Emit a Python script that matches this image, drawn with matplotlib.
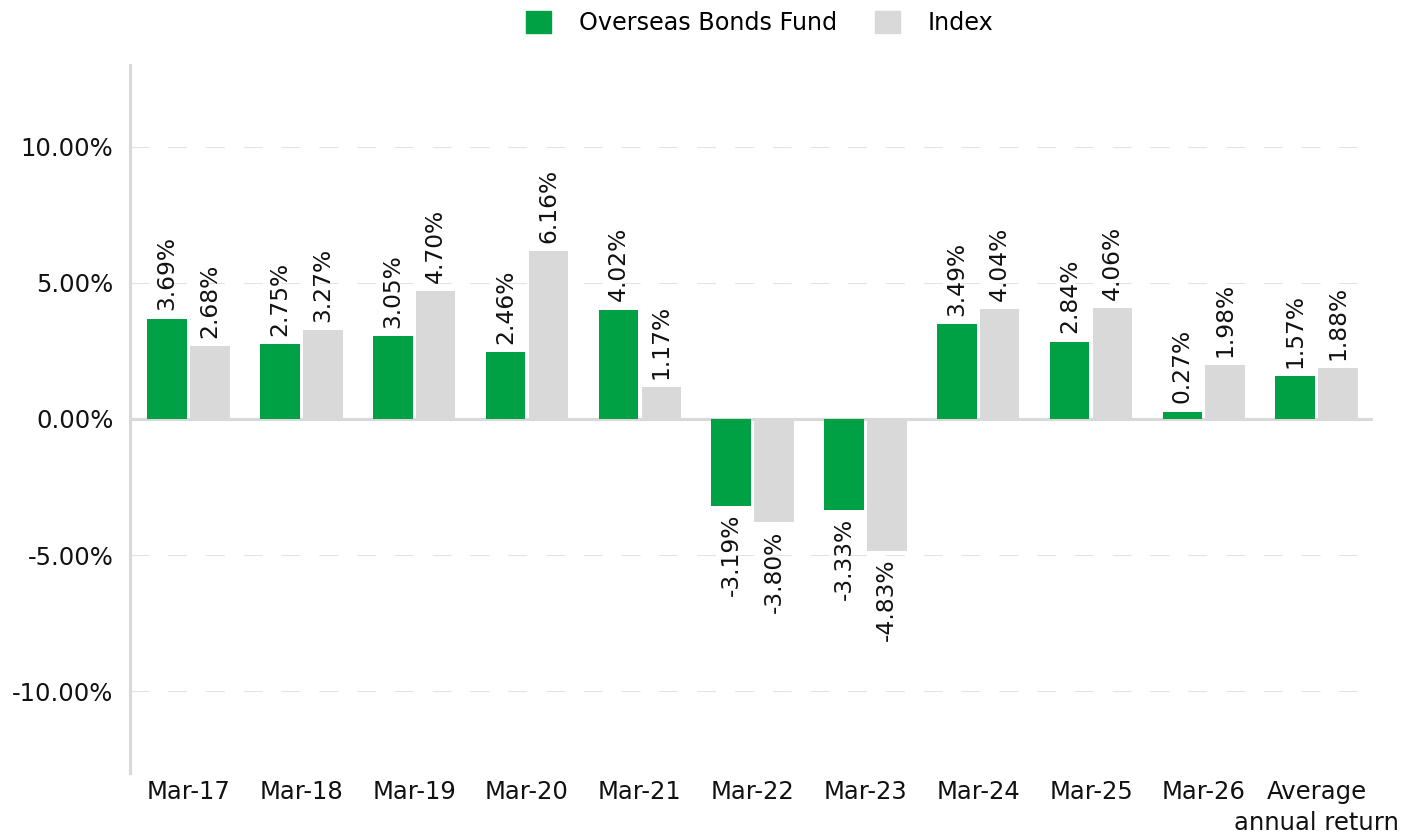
import matplotlib.pyplot as plt
import numpy as np
from matplotlib.patches import Patch

categories = ['Mar-17', 'Mar-18', 'Mar-19', 'Mar-20', 'Mar-21', 'Mar-22',
              'Mar-23', 'Mar-24', 'Mar-25', 'Mar-26', 'Average']
last_label_line2 = 'annual return'
fund = [3.69, 2.75, 3.05, 2.46, 4.02, -3.19, -3.33, 3.49, 2.84, 0.27, 1.57]
index = [2.68, 3.27, 4.70, 6.16, 1.17, -3.80, -4.83, 4.04, 4.06, 1.98, 1.88]
yticks = [-10, -5, 0, 5, 10]

GREEN = '#00a144'
GREY = '#d9d9d9'
FS = 17.5

plt.rcParams['font.family'] = 'DejaVu Sans'

fig = plt.figure(figsize=(14.13, 8.33), dpi=100)
ax = fig.add_axes([130 / 1413, 60 / 833, 1243 / 1413, 708 / 833])

x = np.arange(len(categories))
w = 0.35
off = 0.19

ax.bar(x - off, fund, width=w, color=GREEN, zorder=3)
ax.bar(x + off, index, width=w, color=GREY, zorder=3)

def label(xs, vals):
    for xi, v in zip(xs, vals):
        pad = 0.3 if v >= 0 else -0.3
        ax.text(xi, v + pad, '{:.2f}%'.format(v), rotation=90, ha='center',
                va='bottom' if v >= 0 else 'top', fontsize=16.8, color='#111111',
                zorder=4)

label(x - off, fund)
label(x + off, index)

ax.set_xlim(-0.52, 10.5)
ax.set_ylim(-13, 13)
ax.set_yticks(yticks)
ax.set_yticklabels(['{:.2f}%'.format(t) for t in yticks])
ax.set_xticks(x)
ax.set_xticklabels(categories)
ax.tick_params(axis='both', length=0, labelsize=FS, colors='#111111')
ax.tick_params(axis='y', pad=12)
ax.tick_params(axis='x', pad=5)

# second line of the last category label
ax.annotate(last_label_line2, xy=(x[-1], 0), xycoords=('data', 'axes fraction'),
            xytext=(0, -27), textcoords='offset points', ha='center', va='top',
            fontsize=FS, color='#111111', annotation_clip=False)

for t in [-10, -5, 5, 10]:
    ax.axhline(t, color='#e3e3e3', lw=0.8, linestyle=(0, (17, 17)), zorder=1)
ax.axhline(0, color=GREY, lw=2.25, zorder=2)

for s in ['top', 'right', 'bottom']:
    ax.spines[s].set_visible(False)
ax.spines['left'].set_color(GREY)
ax.spines['left'].set_linewidth(2.25)

handles = [Patch(color=GREEN, label='Overseas Bonds Fund'),
           Patch(color=GREY, label='Index')]
fig.legend(handles=handles, loc='center', bbox_to_anchor=(760 / 1413, 1 - 23 / 833),
           ncol=2, frameon=False, fontsize=17.2, handlelength=1.05, handleheight=1.05,
           handletextpad=1.15, columnspacing=1.6)

fig.savefig('out.png', dpi=100)
